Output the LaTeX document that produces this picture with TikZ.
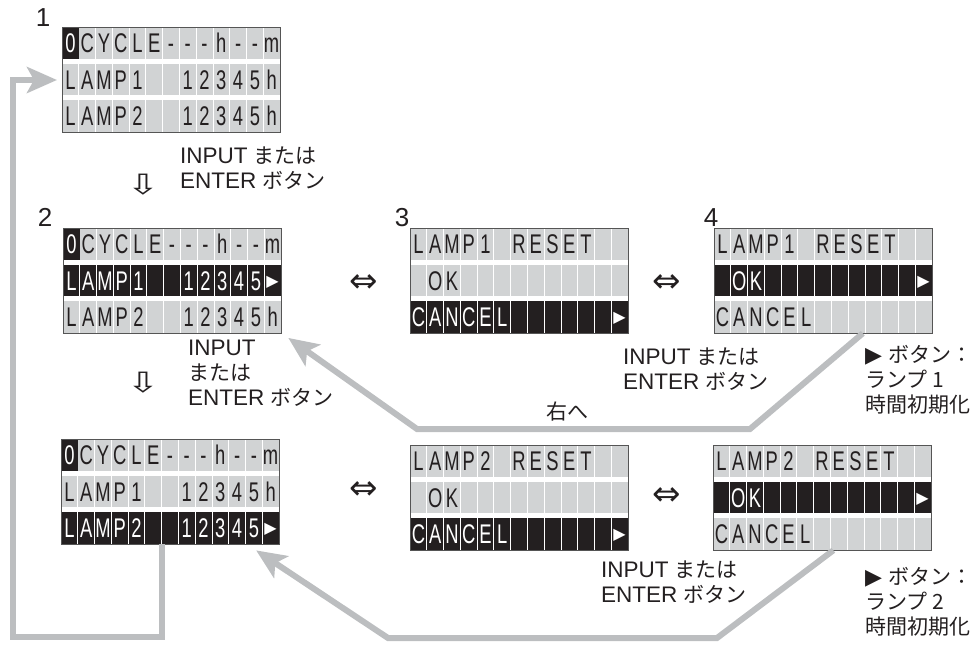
\documentclass[tikz,border=0pt]{standalone}
\usepackage{fontspec}
\setmainfont{Liberation Sans}
\newfontfamily\lcdfont[FakeStretch=0.68]{Liberation Sans}
\newfontfamily\jpfont{Noto Sans CJK JP}
\newfontfamily\symfont{DejaVu Sans}
\usetikzlibrary{arrows.meta, calc}
\usepackage{xcolor}
\definecolor{lcdgray}{RGB}{209,211,212}
\definecolor{lcdink}{RGB}{35,31,32}
\definecolor{flowgray}{RGB}{188,190,192}
\definecolor{framegray}{RGB}{85,85,85}

\newcommand{\jp}[1]{{\jpfont\fontsize{21}{25}\selectfont #1}}
\newcommand{\tri}{\raisebox{4pt}{\symfont\fontsize{16}{16}\selectfont ▶}}
\newcommand{\lcdrow}[5]{%
  \fill[lcd#4] (#2,#3) rectangle ++(218,31.5);
  \foreach \k in {1,...,12}
    \draw[lcdsep] (#2+\k*16.77,#3) -- ++(0,31.5);
  \foreach \ch [count=\i from 0] in {#5}
    \node[lcdchar, lcd#4 text] (#1c\i) at (#2+8.385+\i*16.77,#3+25.5) {\ch};
}
\newcommand{\lcdzero}[3]{%
  \fill[lcdon] (#2,#3) rectangle ++(16.77,31.5);
  \node[lcdchar, lcdon text] (#1) at (#2+8.385,#3+25.5) {0};
}

\tikzset{
  lcdoff/.style={fill=lcdgray},
  lcdon/.style={fill=lcdink},
  lcdoff text/.style={text=lcdink},
  lcdon text/.style={text=white},
  lcdchar/.style={inner sep=0pt, anchor=base, font=\lcdfont\fontsize{27}{27}\selectfont},
  lcdsep/.style={white, line width=0.8pt},
  lcdframe/.style={draw=framegray, line width=0.8pt, inner sep=0pt, anchor=north west,
    minimum width=218pt, minimum height=104.5pt},
  flow/.style={draw=flowgray, line width=6pt, -{Stealth[length=30pt, width=26pt, inset=7pt]}},
  note/.style={anchor=base west, align=left, inner sep=0pt, text=lcdink,
    font=\fontsize{22.5}{25}\selectfont},
  panelno/.style={anchor=base, inner sep=0pt, text=lcdink, font=\fontsize{26}{26}\selectfont},
  arrowsym/.style={inner sep=0pt, text=lcdink, font=\symfont\fontsize{28}{28}\selectfont},
  swapsym/.style={arrowsym, font=\symfont\fontsize{34}{34}\selectfont},
}

\begin{document}
\begin{tikzpicture}[x=1pt, y=-1pt]
  \useasboundingbox (0,0) rectangle (977,645);

  \lcdrow{p1a}{62}{27}{off}{{},C,Y,C,L,E,-,-,-,h,-,-,m}
  \lcdzero{p1z}{62}{27}
  \lcdrow{p1b}{62}{63.5}{off}{L,A,M,P,1,{},{},1,2,3,4,5,h}
  \lcdrow{p1c}{62}{100}{off}{L,A,M,P,2,{},{},1,2,3,4,5,h}
  \node[lcdframe] (p1) at (62,27) {};

  \lcdrow{p2a}{63}{228}{off}{{},C,Y,C,L,E,-,-,-,h,-,-,m}
  \lcdzero{p2z}{63}{228}
  \lcdrow{p2b}{63}{264.5}{on}{L,A,M,P,1,{},{},1,2,3,4,5,\tri}
  \lcdrow{p2c}{63}{301}{off}{L,A,M,P,2,{},{},1,2,3,4,5,h}
  \node[lcdframe] (p2) at (63,228) {};

  \lcdrow{p3a}{410}{228}{off}{L,A,M,P,1,{},R,E,S,E,T,{},{}}
  \lcdrow{p3b}{410}{264.5}{off}{{},O,K,{},{},{},{},{},{},{},{},{},{}}
  \lcdrow{p3c}{410}{301}{on}{C,A,N,C,E,L,{},{},{},{},{},{},\tri}
  \node[lcdframe] (p3) at (410,228) {};

  \lcdrow{p4a}{714}{228}{off}{L,A,M,P,1,{},R,E,S,E,T,{},{}}
  \lcdrow{p4b}{714}{264.5}{on}{{},O,K,{},{},{},{},{},{},{},{},{},\tri}
  \lcdrow{p4c}{714}{301}{off}{C,A,N,C,E,L,{},{},{},{},{},{},{}}
  \node[lcdframe] (p4) at (714,228) {};

  \lcdrow{q2a}{61}{439}{off}{{},C,Y,C,L,E,-,-,-,h,-,-,m}
  \lcdzero{q2z}{61}{439}
  \lcdrow{q2b}{61}{475.5}{off}{L,A,M,P,1,{},{},1,2,3,4,5,h}
  \lcdrow{q2c}{61}{512}{on}{L,A,M,P,2,{},{},1,2,3,4,5,\tri}
  \node[lcdframe] (p2b) at (61,439) {};

  \lcdrow{q3a}{410}{445}{off}{L,A,M,P,2,{},R,E,S,E,T,{},{}}
  \lcdrow{q3b}{410}{481.5}{off}{{},O,K,{},{},{},{},{},{},{},{},{},{}}
  \lcdrow{q3c}{410}{518}{on}{C,A,N,C,E,L,{},{},{},{},{},{},\tri}
  \node[lcdframe] (p3b) at (410,445) {};

  \lcdrow{q4a}{713}{445}{off}{L,A,M,P,2,{},R,E,S,E,T,{},{}}
  \lcdrow{q4b}{713}{481.5}{on}{{},O,K,{},{},{},{},{},{},{},{},{},\tri}
  \lcdrow{q4c}{713}{518}{off}{C,A,N,C,E,L,{},{},{},{},{},{},{}}
  \node[lcdframe] (p4b) at (713,445) {};

  \node[panelno] (n1) at (43,27) {1};
  \node[panelno] (n2) at (45,226) {2};
  \node[panelno] (n3) at (402,226) {3};
  \node[panelno] (n4) at (711,226) {4};

  \node[note] (inA) at (180,188) {INPUT \jp{または}\\ENTER \jp{ボタン}};
  \node[note] (inB) at (188,405) {INPUT\\\jp{または}\\ENTER \jp{ボタン}};
  \node[note] (inC) at (623,389) {INPUT \jp{または}\\ENTER \jp{ボタン}};
  \node[note] (inE) at (601,602) {INPUT \jp{または}\\ENTER \jp{ボタン}};
  \node[note] (rst1) at (865,412)
    {{\symfont\fontsize{22}{25}\selectfont ▶} \jp{ボタン：}\\\jp{ランプ 1}\\\jp{時間初期化}};
  \node[note] (rst2) at (865,634)
    {{\symfont\fontsize{22}{25}\selectfont ▶} \jp{ボタン：}\\\jp{ランプ 2}\\\jp{時間初期化}};
  \node[note, anchor=base] (toright) at (567,419) {\jp{右へ}};

  \node[arrowsym, xscale=1.4] (dn1) at (143,185) {⇩};
  \node[arrowsym, xscale=1.4] (dn2) at (143,383) {⇩};
  \node[swapsym] (lr1) at (364,284) {⇔};
  \node[swapsym] (lr2) at (667,284) {⇔};
  \node[swapsym] (lr3) at (364,491) {⇔};
  \node[swapsym] (lr4) at (667,497) {⇔};

  \coordinate (loopa) at (162,637);
  \coordinate (loopb) at (13,637);
  \coordinate (loopc) at (13,80);
  \draw[flow, shorten >=5pt] (p2b.south -| loopa) -- (loopa) -- (loopb) -- (loopc) -- (loopc -| p1.west);

  \coordinate (ret1a) at (750,429);
  \coordinate (ret1b) at (417,429);
  \draw[flow, shorten >=8pt] ($(p4.south west)!0.68!(p4.south east)$) -- (ret1a) -- (ret1b) -- (p2.south east);

  \coordinate (ret2a) at (717,638);
  \coordinate (ret2b) at (388,638);
  \draw[flow, shorten >=11pt] ($(p4b.south west)!0.55!(p4b.south east)$) -- (ret2a) -- (ret2b)
    -- ($(p2b.south west)!0.85!(p2b.south east)$);
\end{tikzpicture}
\end{document}
